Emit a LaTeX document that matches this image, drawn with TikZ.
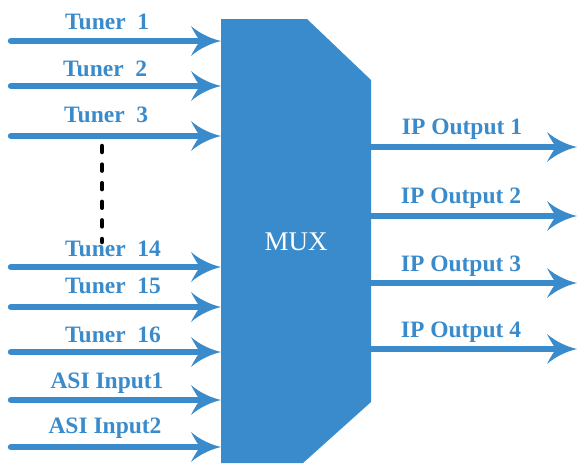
\documentclass[tikz,border=0pt]{standalone}
\usepackage{fontspec}
\setmainfont{Liberation Serif}
\usetikzlibrary{arrows.meta}
\definecolor{muxblue}{HTML}{3A8BCB}
\pgfdeclarearrow{
  name = Swept,
  setup code = {
    \pgfarrowssettipend{0pt}
    \pgfarrowssetlineend{-16pt}
    \pgfarrowssetbackend{-30pt}
    \pgfarrowssetvisualbackend{-21pt}
    \pgfarrowshullpoint{0pt}{0pt}
    \pgfarrowshullpoint{-30pt}{15pt}
    \pgfarrowshullpoint{-30pt}{-15pt}
  },
  drawing code = {
    \pgfpathmoveto{\pgfqpoint{0pt}{0pt}}
    \pgfpathcurveto{\pgfqpoint{-9pt}{2pt}}{\pgfqpoint{-21pt}{7pt}}{\pgfqpoint{-30pt}{15pt}}
    \pgfpathcurveto{\pgfqpoint{-26.5pt}{8pt}}{\pgfqpoint{-23.5pt}{3.5pt}}{\pgfqpoint{-21pt}{0pt}}
    \pgfpathcurveto{\pgfqpoint{-23.5pt}{-3.5pt}}{\pgfqpoint{-26.5pt}{-8pt}}{\pgfqpoint{-30pt}{-15pt}}
    \pgfpathcurveto{\pgfqpoint{-21pt}{-7pt}}{\pgfqpoint{-9pt}{-2pt}}{\pgfqpoint{0pt}{0pt}}
    \pgfpathclose
    \pgfusepathqfill
  }
}
\tikzset{
  sig/.style={draw=muxblue, line width=6.5pt, line cap=round, -{Swept}},
  lbl/.style={text=muxblue, font=\fontsize{23.5}{23.5}\selectfont\bfseries, inner sep=0pt},
}
\begin{document}
\begin{tikzpicture}[x=1pt,y=-1pt]
\useasboundingbox (0,0) rectangle (577,463);
% MUX body
\fill[muxblue] (221,19) -- (307,19) -- (371,80) -- (371,402) -- (303,463) -- (221,463) -- cycle;
\node[text=white, font=\fontsize{27}{27}\selectfont, inner sep=0pt] (mux) at (296,242) {MUX};
% input coordinates
\foreach \n/\y in {i1/41,i2/86,i3/136,i14/267,i15/307,i16/352,a1/400,a2/447}{
  \coordinate (\n s) at (11,\y);
  \coordinate (\n e) at (221,\y);
}
\foreach \n in {i1,i2,i3,i14,i15,i16,a1,a2}{
  \draw[sig] (\n s) -- (\n e);
}
% outputs
\foreach \n/\y in {o1/147,o2/216,o3/283,o4/349}{
  \coordinate (\n s) at (368,\y);
  \coordinate (\n e) at (577,\y);
}
\foreach \n in {o1,o2,o3,o4}{
  \draw[sig] (\n s) -- (\n e);
}
% labels
\node[lbl, anchor=west] (t1) at (65,22) {Tuner\ \ 1};
\node[lbl, anchor=west] (t2) at (63,69) {Tuner\ \ 2};
\node[lbl, anchor=west] (t3) at (64,115) {Tuner\ \ 3};
\node[lbl, anchor=west] (t14) at (65,249) {Tuner\ \ 14};
\node[lbl, anchor=west] (t15) at (65,286) {Tuner\ \ 15};
\node[lbl, anchor=west] (t16) at (65,335) {Tuner\ \ 16};
\node[lbl] (a1l) at (107,383) {ASI Input1};
\node[lbl] (a2l) at (105,428) {ASI Input2};
\node[lbl] (o1l) at (462,129) {IP Output 1};
\node[lbl] (o2l) at (461,198) {IP Output 2};
\node[lbl] (o3l) at (461,266) {IP Output 3};
\node[lbl] (o4l) at (461,332) {IP Output 4};
% dotted continuation
\coordinate (d1) at (102,146);
\coordinate (d2) at (102,242);
\draw[black, line width=4.5pt, line cap=round, dash pattern=on 6pt off 12.6pt] (d1) -- (d2);
\end{tikzpicture}
\end{document}
